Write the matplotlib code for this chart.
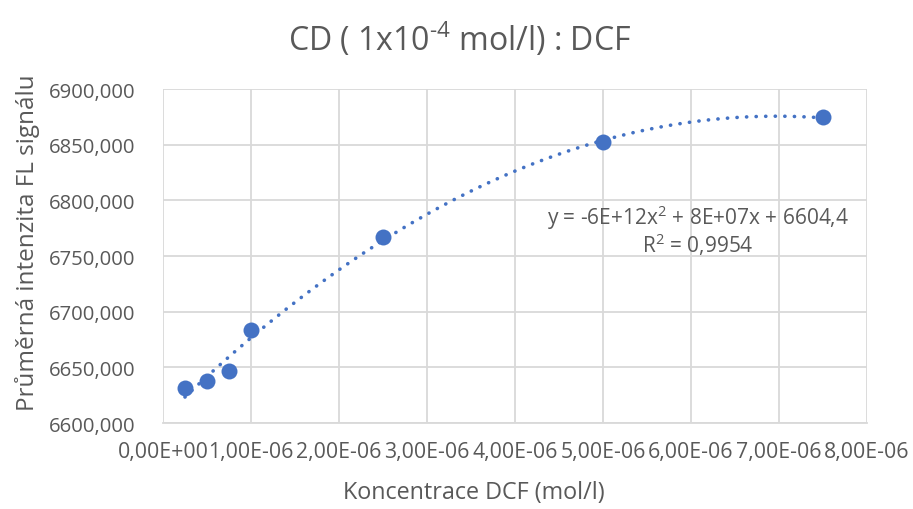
import numpy as np
import matplotlib
matplotlib.use("Agg")
import matplotlib.pyplot as plt
from matplotlib.ticker import FuncFormatter, MultipleLocator

# Concentration of DCF (mol/l) and mean FL signal intensity
concentration = [2.5e-7, 5.0e-7, 7.5e-7, 1.0e-6, 2.5e-6, 5.0e-6, 7.5e-6]
intensity = [6631.5, 6637.5, 6646.5, 6683.5, 6767.5, 6852.0, 6874.5]

title_main = r"CD ( 1x10$^{\text{-}4}$ mol/l) : DCF"
x_label = "Koncentrace DCF (mol/l)"
y_label = "Průměrná intenzita FL signálu"
equation = "y = -6E+12x$^{2}$ + 8E+07x + 6604,4"
r_squared = "R$^{2}$ = 0,9954"

TEXT = "#595959"
GRID = "#d9d9d9"
BLUE = "#4472C4"

plt.rcParams["font.family"] = ["Open Sans", "DejaVu Sans"]
plt.rcParams["mathtext.fontset"] = "custom"
plt.rcParams["mathtext.rm"] = "Open Sans"

fig = plt.figure(figsize=(9.13, 5.10), dpi=100)
ax = fig.add_axes([0.1785, 0.1686, 0.9496 - 0.1785, 0.8235 - 0.1686])

# second-order polynomial trendline
coef = np.polyfit(concentration, intensity, 2)
xs = np.linspace(min(concentration), max(concentration), 300)
ax.plot(xs, np.polyval(coef, xs), color=BLUE, linewidth=2.6,
        linestyle=(0, (0.05, 2.6)), dash_capstyle="round", zorder=2)

ax.plot(concentration, intensity, "o", color=BLUE, markersize=11.5,
        markeredgewidth=0, zorder=3)

ax.set_xlim(0, 8e-6)
ax.set_ylim(6600, 6900)
ax.xaxis.set_major_locator(MultipleLocator(1e-6))
ax.yaxis.set_major_locator(MultipleLocator(50))
ax.xaxis.set_major_formatter(FuncFormatter(lambda v, p: f"{v:.2E}".replace(".", ",")))
ax.yaxis.set_major_formatter(FuncFormatter(lambda v, p: f"{v:.3f}".replace(".", ",")))

ax.grid(True, color=GRID, linewidth=1.3)
ax.set_axisbelow(True)
for side in ["top", "right", "left"]:
    ax.spines[side].set_visible(False)
ax.spines["bottom"].set_color(GRID)
ax.spines["bottom"].set_linewidth(1.3)
ax.tick_params(axis="both", length=0, colors=TEXT)
ax.tick_params(axis="x", pad=13, labelsize=15.3)
ax.tick_params(axis="y", pad=20, labelsize=14.6)

ax.set_xlabel(x_label, color=TEXT, fontsize=16.8)
ax.xaxis.set_label_coords(0.442, -0.207)
ax.xaxis.label.set_va("center")
ax.set_ylabel(y_label, color=TEXT, fontsize=17.5)
ax.yaxis.set_label_coords(-0.192, 0.542)
ax.yaxis.label.set_va("center")

fig.text(0.503, 0.922, title_main, ha="center", va="center", color=TEXT, fontsize=23)

ax.text(0.76, 0.617, equation, transform=ax.transAxes, ha="center", va="center",
        color=TEXT, fontsize=15)
ax.text(0.76, 0.536, r_squared, transform=ax.transAxes, ha="center", va="center",
        color=TEXT, fontsize=15)

fig.savefig("out.png", dpi=100, facecolor="white")
